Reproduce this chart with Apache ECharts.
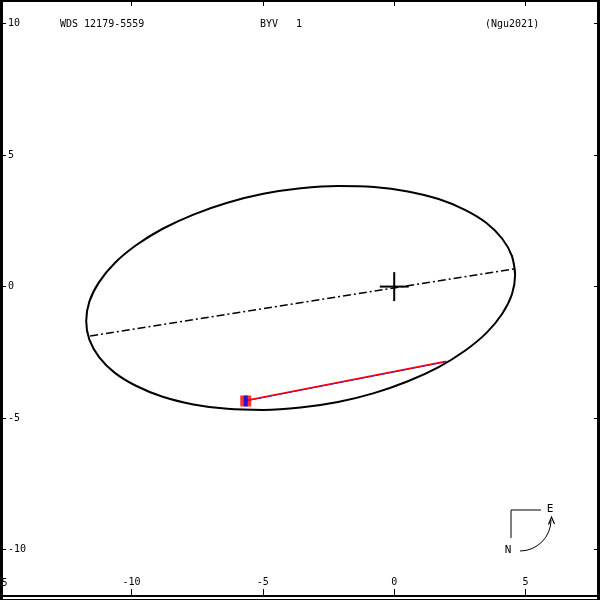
<!DOCTYPE html>
<html>
<head>
<meta charset="utf-8">
<script src="https://cdn.jsdelivr.net/npm/echarts@6/dist/echarts.min.js"></script>
<style>html,body{margin:0;padding:0;background:#fff}#c{width:600px;height:600px}</style>
</head>
<body>
<div id="c"></div>
<script>
// Orbit (apparent ellipse) points, in arcsec
const orbitX = [4.60, 4.48, 4.11, 3.51, 2.69, 1.69, 0.52, -0.77, -2.14, -3.56, -4.98, -6.35, -7.64, -8.81, -9.81, -10.63, -11.23, -11.60,
                -11.72, -11.60, -11.23, -10.63, -9.81, -8.81, -7.64, -6.35, -4.98, -3.56, -2.14, -0.77, 0.52, 1.69, 2.69, 3.51, 4.11, 4.48,
                4.60, 4.48];
const orbitY = [0.45, 1.16, 1.82, 2.42, 2.92, 3.33, 3.62, 3.79, 3.83, 3.74, 3.53, 3.19, 2.74, 2.20, 1.58, 0.90, 0.17, -0.57,
                -1.31, -2.02, -2.68, -3.28, -3.78, -4.19, -4.48, -4.65, -4.69, -4.60, -4.39, -4.05, -3.60, -3.06, -2.44, -1.76, -1.03, -0.29,
                0.45, 1.16];
// line of nodes
const nodesX = [-11.57, 4.57];
const nodesY = [-1.88, 0.67];
// primary star cross half size
const crossHalf = 0.55;
// observation and its predicted position on the orbit
const obsX = [-5.65];
const obsY = [-4.35];
const predX = [1.98];
const predY = [-2.86];
// axis
const xMin = -15, xMax = 7.83;
const yMin = -15, yMax = 10.9;
const tickStep = 5;
// texts
const titleLeft = 'WDS 12179-5559';
const titleMid = 'BYV   1';
const titleRight = '(Ngu2021)';
const clippedXLabel = '-15';

const zip = (a, b) => a.map((v, i) => [v, b[i]]);
const FONT = 'DejaVu Sans Mono';

const chart = echarts.init(document.getElementById('c'), null, {renderer: 'canvas'});
const tickStyle = {show: true, inside: true, length: 6, lineStyle: {color: '#000', width: 1}};
const noLine = {show: false, onZero: false};
const opt = {
  animation: false,
  backgroundColor: '#fff',
  grid: [
    {left: 0, right: 0, top: 0, bottom: -81, containLabel: false, outerBoundsMode: 'none'},
    {left: 0, right: 0, top: 0, bottom: 5, containLabel: false, outerBoundsMode: 'none'}
  ],
  xAxis: [
    {gridIndex: 0, type: 'value', position: 'top', min: xMin, max: xMax, interval: tickStep,
     axisLine: noLine, axisTick: tickStyle, axisLabel: {show: false}, splitLine: {show: false}},
    {gridIndex: 0, type: 'value', position: 'bottom', min: xMin, max: xMax, show: false, axisLine: noLine},
    {gridIndex: 1, type: 'value', position: 'bottom', min: xMin, max: xMax, interval: tickStep,
     axisLine: noLine, axisTick: tickStyle,
     axisLabel: {show: true, inside: true, margin: 8, color: '#000', fontFamily: FONT, fontSize: 10,
                 showMinLabel: false, showMaxLabel: false},
     splitLine: {show: false}}
  ],
  yAxis: [
    {gridIndex: 0, type: 'value', position: 'left', min: yMin, max: yMax, interval: tickStep,
     axisLine: noLine, axisTick: tickStyle,
     axisLabel: {show: true, inside: true, margin: 8, color: '#000', fontFamily: FONT, fontSize: 10,
                 showMinLabel: false, showMaxLabel: false},
     splitLine: {show: false}},
    {gridIndex: 0, type: 'value', position: 'right', min: yMin, max: yMax, interval: tickStep,
     axisLine: noLine, axisTick: tickStyle, axisLabel: {show: false}, splitLine: {show: false}},
    {gridIndex: 1, type: 'value', show: false, min: 0, max: 1, axisLine: noLine}
  ],
  series: [
    {type: 'line', xAxisIndex: 0, yAxisIndex: 0, data: zip(orbitX, orbitY), smooth: 0.35, showSymbol: false,
     lineStyle: {color: '#000', width: 2}, z: 2},
    {type: 'line', xAxisIndex: 0, yAxisIndex: 0, data: zip(nodesX, nodesY), showSymbol: false,
     lineStyle: {color: '#000', width: 1.5, type: [8, 3, 2, 3]}, z: 2},
    {type: 'line', xAxisIndex: 0, yAxisIndex: 0, data: [[-crossHalf, 0], [crossHalf, 0]], showSymbol: false,
     lineStyle: {color: '#000', width: 2}, z: 3},
    {type: 'line', xAxisIndex: 0, yAxisIndex: 0, data: [[0, -crossHalf], [0, crossHalf]], showSymbol: false,
     lineStyle: {color: '#000', width: 2}, z: 3},
    {type: 'line', xAxisIndex: 0, yAxisIndex: 0, data: [[obsX[0], obsY[0]], [predX[0], predY[0]]], showSymbol: false,
     lineStyle: {color: '#0000ff', width: 1}, z: 4},
    {type: 'line', xAxisIndex: 0, yAxisIndex: 0, data: [[obsX[0], obsY[0] + 0.02], [predX[0], predY[0] + 0.02]], showSymbol: false,
     lineStyle: {color: '#ff0000', width: 1.5}, z: 5},
    {type: 'scatter', xAxisIndex: 0, yAxisIndex: 0, data: zip(obsX, obsY), symbol: 'rect', symbolSize: 11,
     itemStyle: {color: '#ff0000'}, z: 6},
    {type: 'scatter', xAxisIndex: 0, yAxisIndex: 0, data: zip(obsX, obsY), symbol: 'rect', symbolSize: [4, 11],
     itemStyle: {color: '#0000ff'}, z: 7}
  ],
  graphic: [
    {type: 'text', left: 60, top: 19, style: {text: titleLeft, fill: '#000', font: '10px "' + FONT + '"'}},
    {type: 'text', left: 260, top: 19, style: {text: titleMid, fill: '#000', font: '10px "' + FONT + '"'}},
    {type: 'text', left: 485, top: 19, style: {text: titleRight, fill: '#000', font: '10px "' + FONT + '"'}},
    {type: 'text', x: -1.5, y: 583, style: {text: clippedXLabel, fill: '#000', font: '10px "' + FONT + '"', align: 'center', verticalAlign: 'middle'}},
    // frame
    {type: 'rect', shape: {x: 0, y: 0, width: 600, height: 2}, style: {fill: '#000'}, z: 100},
    {type: 'rect', shape: {x: 0, y: 0, width: 3, height: 600}, style: {fill: '#000'}, z: 100},
    {type: 'rect', shape: {x: 597, y: 0, width: 3, height: 600}, style: {fill: '#000'}, z: 100},
    {type: 'rect', shape: {x: 0, y: 595, width: 600, height: 2}, style: {fill: '#000'}, z: 100},
    {type: 'rect', shape: {x: 0, y: 599, width: 600, height: 1}, style: {fill: '#000'}, z: 100},
    // compass
    {type: 'polyline', shape: {points: [[511, 538], [511, 510], [541, 510]]}, style: {stroke: '#000', lineWidth: 1, fill: null}},
    {type: 'arc', shape: {cx: 520, cy: 520, r: 31, startAngle: 0, endAngle: Math.PI / 2}, style: {stroke: '#000', lineWidth: 1, fill: null}},
    {type: 'polyline', shape: {points: [[548.5, 524.5], [551.5, 517], [554.5, 524]]}, style: {stroke: '#000', lineWidth: 1.2, fill: null}},
    {type: 'text', x: 550, y: 509, style: {text: 'E', fill: '#000', font: '11px "' + FONT + '"', align: 'center', verticalAlign: 'middle'}},
    {type: 'text', x: 508, y: 550, style: {text: 'N', fill: '#000', font: '11px "' + FONT + '"', align: 'center', verticalAlign: 'middle'}}
  ]
};
chart.setOption(opt);
</script>
</body>
</html>
